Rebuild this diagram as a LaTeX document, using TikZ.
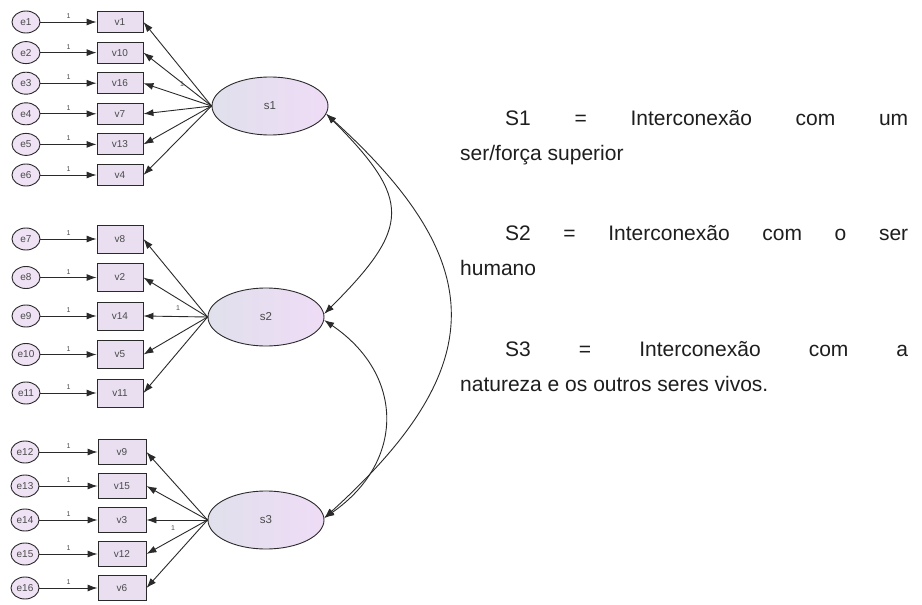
\documentclass[tikz,border=0pt]{standalone}
\usepackage{fontspec}
\setmainfont{Liberation Sans}
\usetikzlibrary{arrows.meta,shapes.geometric}

\definecolor{linec}{HTML}{2A2A2A}
\definecolor{boxfill}{HTML}{E9DFF1}
\definecolor{errfill}{HTML}{EEE2F4}
\definecolor{latl}{HTML}{E0E0EC}
\definecolor{latr}{HTML}{EFDCF6}
\definecolor{labc}{HTML}{4A4A4A}
\definecolor{textc}{HTML}{1E1E1E}

\tikzset{
  errnode/.style={ellipse, draw=linec, line width=0.9pt, fill=errfill,
    minimum width=28pt, minimum height=22pt, inner sep=0pt,
    font=\fontsize{10}{10}\selectfont, text=labc},
  obsnode/.style={rectangle, draw=linec, line width=0.9pt, fill=boxfill,
    minimum width=46pt, inner sep=0pt,
    font=\fontsize{10}{10}\selectfont, text=labc},
  latnode/.style={ellipse, draw=linec, line width=0.9pt,
    left color=latl, right color=latr,
    minimum width=116pt, minimum height=58pt, inner sep=0pt,
    font=\fontsize{11.5}{11.5}\selectfont, text=labc},
  regpath/.style={draw=linec, line width=0.9pt, -{Latex[length=10pt,width=7pt]}},
  covpath/.style={draw=linec, line width=0.9pt,
    {Latex[length=10pt,width=7pt]}-{Latex[length=10pt,width=7pt]}},
  fixlab/.style={font=\fontsize{7}{7}\selectfont, text=labc, inner sep=0pt},
  txt/.style={inner sep=0pt, anchor=base west, text=textc,
    font=\fontsize{21}{23}\selectfont},
}

\begin{document}
\begin{tikzpicture}[x=1pt,y=-1pt]
\useasboundingbox (0,0) rectangle (922,605);
\fill[white] (0,0) rectangle (922,605);

% latent factors
\node[latnode] (s1) at (270,106) {s1};
\node[latnode] (s2) at (266,317) {s2};
\node[latnode] (s3) at (266,520) {s3};

% factor 1 indicators
\foreach \i/\v [count=\k from 0] in {1/1,2/10,3/16,4/7,5/13,6/4}{
  \pgfmathsetmacro\yy{22+30.6*\k}
  \node[errnode] (e\i) at (26,\yy) {e\i};
  \node[obsnode, minimum height=21pt] (v\v) at (120,\yy) {v\v};
  \draw[regpath] (e\i) -- node[fixlab, above=3pt] {1} (v\v);
  \draw[regpath] (s1.west) -- (v\v.east);
}

% factor 2 indicators
\foreach \i/\v [count=\k from 0] in {7/8,8/2,9/14,10/5,11/11}{
  \pgfmathsetmacro\yy{239+38.5*\k}
  \node[errnode] (e\i) at (26,\yy) {e\i};
  \node[obsnode, minimum height=28pt] (v\v) at (120,\yy) {v\v};
  \draw[regpath] (e\i) -- node[fixlab, above=3pt] {1} (v\v);
  \draw[regpath] (s2.west) -- (v\v.east);
}

% factor 3 indicators
\foreach \i/\v [count=\k from 0] in {12/9,13/15,14/3,15/12,16/6}{
  \pgfmathsetmacro\yy{452+34*\k}
  \node[errnode] (e\i) at (25,\yy) {e\i};
  \node[obsnode, minimum height=24.5pt, minimum width=48pt] (v\v) at (122,\yy) {v\v};
  \draw[regpath] (e\i) -- node[fixlab, above=3pt] {1} (v\v);
  \draw[regpath] (s3.west) -- (v\v.east);
}

% fixed loadings
\node[fixlab] (f1) at (182,84) {1};
\node[fixlab] (f2) at (178,308) {1};
\node[fixlab] (f3) at (173,528) {1};

% factor covariances
\draw[covpath] (s1.-8) .. controls (412,200) and (411,227) .. (s2.3);
\draw[covpath] (s2.-3) .. controls (405,375) and (405,462) .. (s3.2);
\draw[covpath] (s1.-8) .. controls (491,263) and (491,367) .. (s3.2);

% factor descriptions
\node[txt] (t1) at (505,125) {\makebox[403pt][s]{S1 = Interconexão com um}};
\node[txt] (t2) at (460,160) {ser/força superior};
\node[txt] (t3) at (505,240) {\makebox[403pt][s]{S2 = Interconexão com o ser}};
\node[txt] (t4) at (460,275) {humano};
\node[txt] (t5) at (505,356) {\makebox[403pt][s]{S3 = Interconexão com a}};
\node[txt] (t6) at (460,391) {natureza e os outros seres vivos.};
\end{tikzpicture}
\end{document}
